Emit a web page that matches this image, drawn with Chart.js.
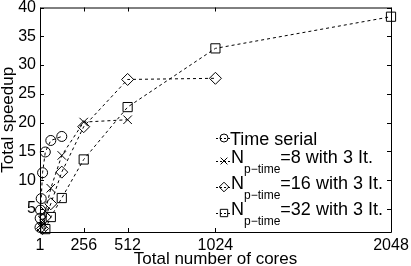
<!DOCTYPE html>
<html>
<head>
<meta charset="utf-8">
<script src="https://cdn.jsdelivr.net/npm/chart.js@4"></script>
<style>
html, body { margin: 0; padding: 0; background: #fff; }
</style>
</head>
<body>
<canvas id="chart" width="411" height="266"></canvas>
<script>
// values
const coresSerial = [1, 2, 4, 8, 16, 32, 64, 128];
const speedSerial = [1.8, 3.4, 4.8, 6.8, 11.3, 14.9, 16.9, 17.6];
const coresN8 = [8, 16, 32, 64, 128, 256, 512];
const speedN8 = [1.9, 3.0, 4.6, 8.6, 14.3, 20.1, 20.5];
const coresN16 = [16, 32, 64, 128, 256, 512, 1024];
const speedN16 = [1.6, 3.6, 5.9, 11.4, 19.3, 27.5, 27.7];
const coresN32 = [32, 64, 128, 256, 512, 1024, 2048];
const speedN32 = [1.5, 3.6, 6.9, 13.6, 22.7, 32.9, 38.4];

const xTicks = [1, 256, 512, 1024, 2048];
const yTicks = [5, 10, 15, 20, 25, 30, 35, 40];

const legendName = ['Time serial', 'N', 'N', 'N'];
const legendSub = ['', 'p\u2212time', 'p\u2212time', 'p\u2212time'];
const legendTail = ['', '=8 with 3 It.', '=16 with 3 It.', '=32 with 3 It.'];

const FONT = '"Liberation Sans", Arial, Helvetica, sans-serif';

function series(label, xs, ys, style, radius) {
    return {
        label: label,
        data: xs.map((c, i) => ({ x: c, y: ys[i] })),
        borderColor: '#000',
        borderWidth: 1,
        borderDash: [3, 3],
        pointStyle: style,
        pointRadius: radius,
        pointBorderColor: '#000',
        pointBackgroundColor: 'rgba(0,0,0,0)',
        pointBorderWidth: 1,
        fill: false,
        tension: 0,
        clip: false
    };
}

// box, inward ticks and the legend (MATLAB look)
const frame = {
    id: 'frame',
    afterDatasetsDraw(chart) {
        const { ctx, chartArea: a, scales } = chart;
        const sx = scales.x, sy = scales.y;
        ctx.save();
        ctx.strokeStyle = '#000';
        ctx.lineWidth = 1;
        ctx.setLineDash([]);
        ctx.beginPath();
        ctx.rect(a.left + 0.5, a.top + 0.5, a.right - a.left, a.bottom - a.top);
        xTicks.forEach(v => {
            const p = Math.round(sx.getPixelForValue(v)) + 0.5;
            ctx.moveTo(p, a.bottom); ctx.lineTo(p, a.bottom - 4);
            ctx.moveTo(p, a.top); ctx.lineTo(p, a.top + 4);
        });
        yTicks.forEach(v => {
            const p = Math.round(sy.getPixelForValue(v)) + 0.5;
            ctx.moveTo(a.left, p); ctx.lineTo(a.left + 4, p);
            ctx.moveTo(a.right, p); ctx.lineTo(a.right - 4, p);
        });
        ctx.stroke();

        // legend
        const lx = 224;
        const rows = [138, 161, 187, 213];
        chart.data.datasets.forEach((ds, i) => {
            const ly = rows[i];
            ctx.strokeStyle = '#000';
            ctx.lineWidth = 1;
            ctx.setLineDash([2, 2]);
            ctx.beginPath();
            ctx.moveTo(lx - 8, ly + 0.5); ctx.lineTo(lx + 8, ly + 0.5);
            ctx.stroke();
            ctx.setLineDash([]);
            ctx.fillStyle = 'rgba(0,0,0,0)';
            Chart.helpers.drawPoint(ctx, {
                pointStyle: ds.pointStyle, radius: ds.pointRadius * 0.8,
                rotation: 0, borderWidth: 1
            }, lx, ly);

            ctx.fillStyle = '#000';
            ctx.textAlign = 'left';
            ctx.textBaseline = 'alphabetic';
            ctx.font = '18px ' + FONT;
            if (!legendSub[i]) {
                ctx.fillText(legendName[i], 230, ly + 6.5);
            } else {
                const base = ly + 1.5;
                ctx.fillText(legendName[i], 231, base);
                let tx = 231 + ctx.measureText(legendName[i]).width;
                ctx.font = '12px ' + FONT;
                ctx.fillText(legendSub[i], tx, base + 10);
                tx += ctx.measureText(legendSub[i]).width;
                ctx.font = '18px ' + FONT;
                ctx.fillText(legendTail[i], tx, base);
            }
        });
        ctx.restore();
    }
};

new Chart(document.getElementById('chart'), {
    type: 'line',
    data: {
        datasets: [
            series('Time serial', coresSerial, speedSerial, 'circle', 5),
            series('Np-time=8 with 3 It.', coresN8, speedN8, 'crossRot', 6),
            series('Np-time=16 with 3 It.', coresN16, speedN16, 'rectRot', 6),
            series('Np-time=32 with 3 It.', coresN32, speedN32, 'rect', 6.5)
        ]
    },
    options: {
        responsive: false,
        animation: false,
        layout: { padding: { top: 5, right: 20, left: 0, bottom: 0 } },
        plugins: {
            legend: { display: false },
            tooltip: { enabled: false }
        },
        scales: {
            x: {
                type: 'linear',
                min: 1,
                max: 2048,
                grid: { display: false, drawTicks: false },
                border: { display: false },
                afterBuildTicks: s => { s.ticks = xTicks.map(v => ({ value: v })); },
                afterFit: s => { s.height = 34; s.paddingLeft = 0; s.paddingRight = 0; },
                ticks: {
                    color: '#000', padding: 4, maxRotation: 0, autoSkip: false,
                    font: { family: FONT, size: 16 },
                    callback: v => String(v)
                },
                title: {
                    display: true, text: 'Total number of cores', color: '#000',
                    padding: { top: 0, bottom: -2 }, font: { family: FONT, size: 17, lineHeight: 1 }
                }
            },
            y: {
                min: 1,
                max: 40,
                grid: { display: false, drawTicks: false },
                border: { display: false },
                afterBuildTicks: s => { s.ticks = yTicks.map(v => ({ value: v })); },
                afterFit: s => { s.width = 40; s.paddingTop = 0; s.paddingBottom = 0; },
                ticks: {
                    color: '#000', padding: 4, autoSkip: false,
                    font: { family: FONT, size: 16 },
                    callback: v => String(v)
                },
                title: {
                    display: true, text: 'Total speedup', color: '#000',
                    padding: 0, font: { family: FONT, size: 17, lineHeight: 1 }
                }
            }
        }
    },
    plugins: [frame]
});
</script>
</body>
</html>
